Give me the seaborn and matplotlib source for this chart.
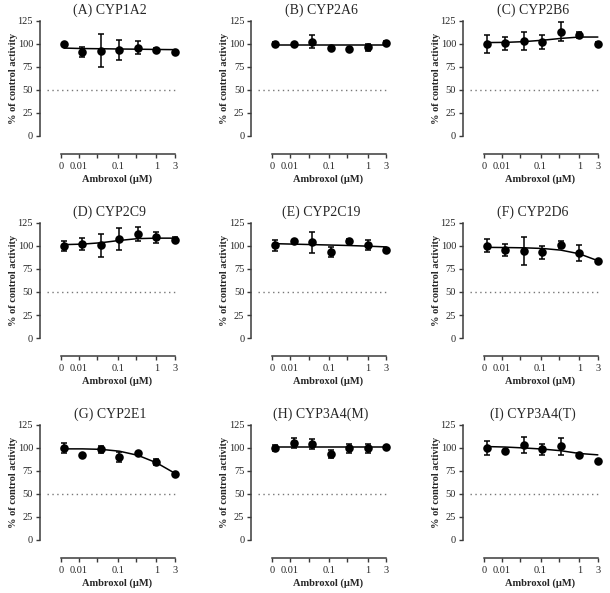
#!/usr/bin/env python3
"""Ambroxol vs. CYP isoform activity: 3x3 grid of concentration-response panels."""

import matplotlib

matplotlib.use("Agg")
import matplotlib.pyplot as plt
import numpy as np
import pandas as pd
import seaborn as sns

# concentrations (uM); the vehicle control "0" sits at a placeholder spot on the log axis
CONC = [0.0, 0.0123, 0.037, 0.111, 0.333, 1.0, 3.0]
ZERO_POS = 0.0042
ZERO_TICK = 0.0035

TITLES = [
    "(A) CYP1A2", "(B) CYP2A6", "(C) CYP2B6",
    "(D) CYP2C9", "(E) CYP2C19", "(F) CYP2D6",
    "(G) CYP2E1", "(H) CYP3A4(M)", "(I) CYP3A4(T)",
]

MEAN_A = [100, 91.3, 92.8, 93.5, 96.0, 93.9, 91.7]
SD_A = [1.5, 5, 17.5, 10.5, 7, 2, 1.5]
FIT_A = [95.5, 95.0, 94.8, 94.5, 94.3, 94.0, 93.8]

MEAN_B = [100, 100, 102.5, 95.7, 94.2, 96.4, 101.4]
SD_B = [2.5, 1.5, 7, 1.5, 1.5, 4, 1.5]
FIT_B = [99.3, 99.3, 99.3, 99.3, 99.3, 99.3, 99.3]

MEAN_C = [100, 100.7, 103, 102.2, 113.4, 109.7, 100.4]
SD_C = [9.4, 7, 10, 8, 10, 3, 1.5]
FIT_C = [101.5, 101.7, 102.5, 104.0, 106.0, 107.5, 107.5]

MEAN_D = [100, 102.2, 100.7, 108, 113, 109.7, 106.8]
SD_D = [5.5, 6.5, 12.4, 12, 8, 6, 3]
FIT_D = [101.5, 102.0, 103.5, 106.0, 108.0, 108.5, 108.5]

MEAN_E = [100.6, 105, 103.9, 93.3, 105.7, 100.6, 95.8]
SD_E = [6.4, 1.5, 11, 5.6, 1.5, 5.5, 1.5]
FIT_E = [102.5, 102.0, 101.5, 101.0, 100.5, 99.8, 99.0]

MEAN_F = [100.2, 95.5, 94.8, 93.3, 101.3, 92.2, 83.5]
SD_F = [7, 6.7, 15, 7, 4, 8.5, 1.5]
FIT_F = [98.5, 98.3, 98.0, 97.3, 95.5, 91.5, 84.0]

MEAN_G = [100, 92.3, 98.4, 90.2, 94.1, 85.1, 71.5]
SD_G = [5.5, 1.5, 3.6, 5.2, 1.5, 3.4, 1.5]
FIT_G = [99.0, 99.0, 98.5, 96.5, 92.0, 84.0, 72.5]

MEAN_H = [100, 105.6, 104.2, 93.4, 99.5, 99.5, 100.9]
SD_H = [3.6, 5.2, 5.4, 4.5, 4.7, 5.2, 1.5]
FIT_H = [100.6, 100.6, 100.6, 100.6, 100.6, 100.6, 100.6]

MEAN_I = [100, 96.3, 103.1, 98.8, 102.0, 92.7, 85.9]
SD_I = [8, 1.5, 8.8, 6, 9.3, 1.5, 1.5]
FIT_I = [101.5, 101.0, 100.0, 98.8, 97.0, 94.0, 92.5]

MEANS = [MEAN_A, MEAN_B, MEAN_C, MEAN_D, MEAN_E, MEAN_F, MEAN_G, MEAN_H, MEAN_I]
SDS = [SD_A, SD_B, SD_C, SD_D, SD_E, SD_F, SD_G, SD_H, SD_I]
FITS = [FIT_A, FIT_B, FIT_C, FIT_D, FIT_E, FIT_F, FIT_G, FIT_H, FIT_I]

XTICKS = [ZERO_TICK, 0.01, 0.03, 0.1, 0.3, 1, 3]
XTICKLABELS = ["0", "0.01", "", "0.1", "", "1", "3"]
YTICKS = [0, 25, 50, 75, 100, 125]

AXIS_COLOR = "#3a3a3a"
SERIF = ["Liberation Serif", "DejaVu Serif"]

LEFTS = [0.0656, 0.412, 0.759]
BOTTOMS = [0.7707, 0.430, 0.0894]
WIDTH = 0.229
HEIGHT = 0.194


def draw_panel(ax, title, mean, sd, fit):
    xpos = [ZERO_POS if c == 0 else c for c in CONC]
    df = pd.DataFrame({"conc": xpos, "mean": mean, "sd": sd, "fit": fit})

    ax.hlines(50, 0.0015, 3.1, colors="#777777", linestyles=(0, (1, 2.5)), lw=1.0)
    sns.lineplot(data=df, x="conc", y="fit", color="black", lw=1.1, ax=ax)
    ax.errorbar(df["conc"], df["mean"], yerr=df["sd"], fmt="none",
                ecolor="black", elinewidth=1.1, capsize=2.5, capthick=1.1)
    sns.scatterplot(data=df, x="conc", y="mean", color="black", s=38,
                    edgecolor="black", linewidth=0, zorder=5, ax=ax)

    ax.set_xscale("log")
    ax.set_xlim(0.001, 4)
    ax.set_ylim(0, 125)

    ax.spines["top"].set_visible(False)
    ax.spines["right"].set_visible(False)
    ax.spines["left"].set_bounds(0, 125)
    ax.spines["bottom"].set_position(("outward", 13))
    ax.spines["bottom"].set_bounds(ZERO_TICK, 3)
    for s in ("left", "bottom"):
        ax.spines[s].set_color(AXIS_COLOR)
        ax.spines[s].set_linewidth(1.1)

    ax.set_yticks(YTICKS)
    ax.set_yticklabels([str(t) for t in YTICKS])
    ax.xaxis.set_minor_locator(matplotlib.ticker.NullLocator())
    ax.set_xticks(XTICKS)
    ax.set_xticklabels(XTICKLABELS)
    ax.tick_params(axis="both", length=3, width=1.0, color=AXIS_COLOR,
                   labelsize=7.5, pad=2)
    ax.tick_params(axis="x", pad=3)
    for lab in ax.get_xticklabels() + ax.get_yticklabels():
        lab.set_family(SERIF)

    ax.set_title(title, fontsize=10, family=SERIF, pad=5)
    ax.set_xlabel("Ambroxol (μM)", fontsize=7.5, fontweight="bold", family=SERIF)
    ax.set_ylabel("% of control activity", fontsize=7.5, fontweight="bold",
                  family=SERIF, labelpad=0)
    ax.xaxis.set_label_coords(0.55, -0.33)


def main() -> None:
    sns.set_theme(style="ticks")
    fig = plt.figure(figsize=(6.1, 5.93), dpi=100)
    for i, title in enumerate(TITLES):
        r, c = divmod(i, 3)
        ax = fig.add_axes([LEFTS[c], BOTTOMS[r], WIDTH, HEIGHT])
        draw_panel(ax, title, MEANS[i], SDS[i], FITS[i])
    fig.savefig("out.png", dpi=100)


if __name__ == "__main__":
    main()
